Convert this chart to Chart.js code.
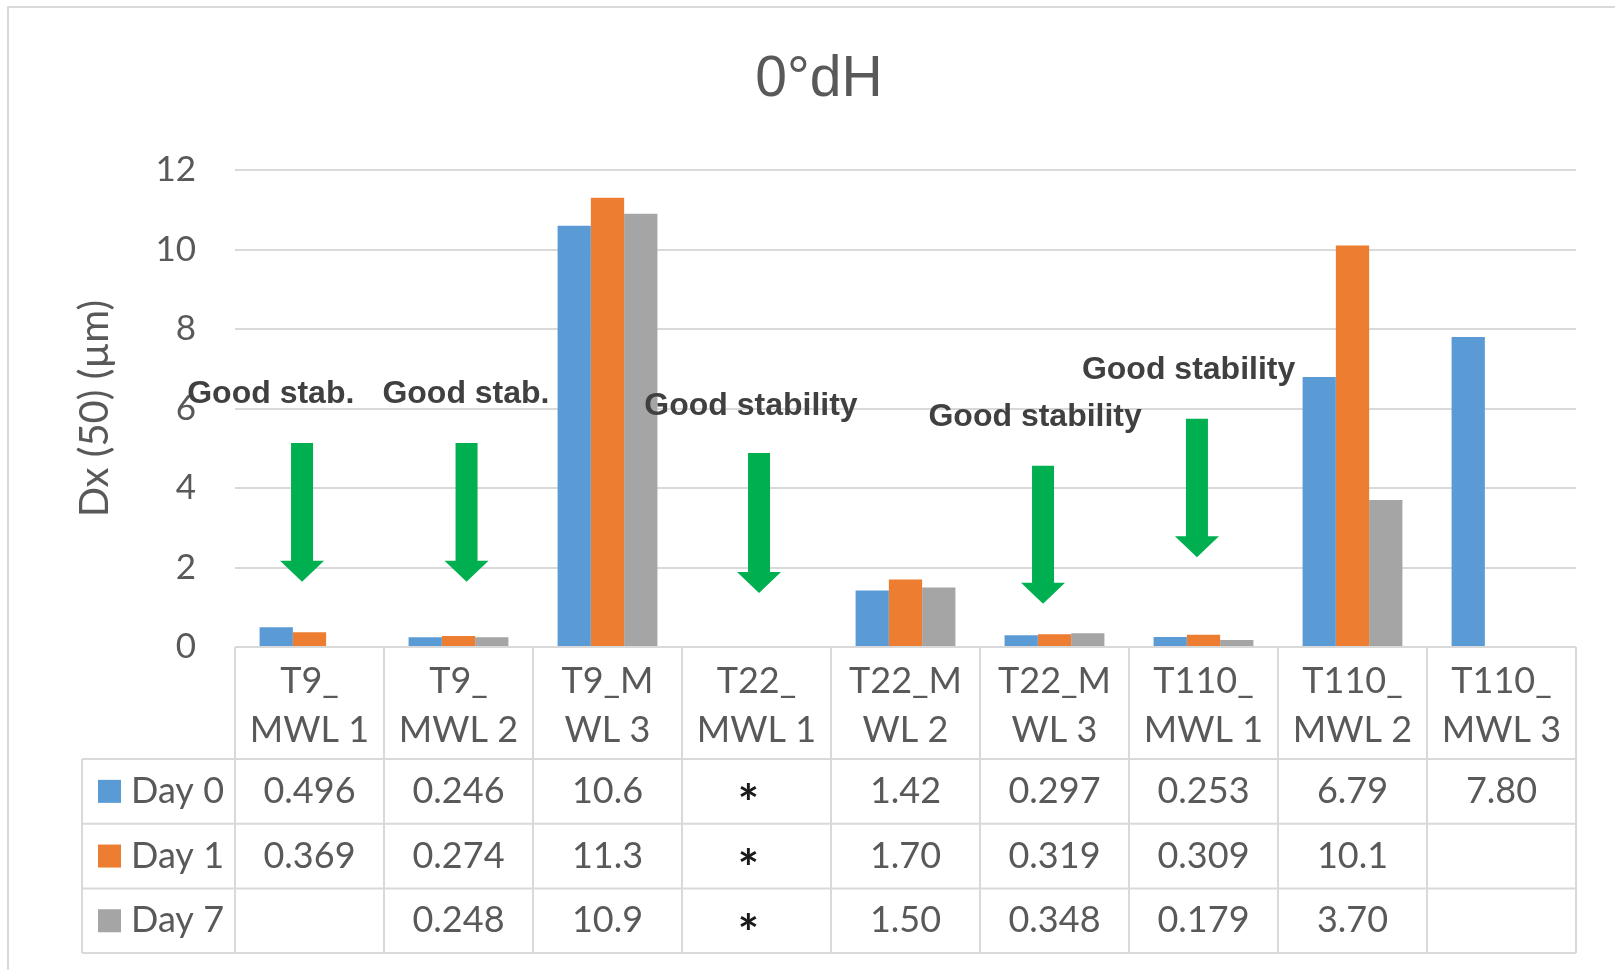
<!DOCTYPE html>
<html><head><meta charset="utf-8">
<script src="https://cdn.jsdelivr.net/npm/chart.js@4.4.1/dist/chart.umd.min.js"></script>
<style>html,body{margin:0;padding:0;background:#fff;} #wrap{width:1615px;height:970px;position:relative;}</style>
</head><body><div id="wrap"><canvas id="c"></canvas></div>
<script>
// ---- data ----
const categories = [["T9_","MWL 1"],["T9_","MWL 2"],["T9_M","WL 3"],["T22_","MWL 1"],["T22_M","WL 2"],["T22_M","WL 3"],["T110_","MWL 1"],["T110_","MWL 2"],["T110_","MWL 3"]];
const seriesNames = ["Day 0","Day 1","Day 7"];
const day0 = [0.496,0.246,10.6,null,1.42,0.297,0.253,6.79,7.80];
const day1 = [0.369,0.274,11.3,null,1.70,0.319,0.309,10.1,null];
const day7 = [null,0.248,10.9,null,1.50,0.348,0.179,3.70,null];
const notMeasured = [3];          // category indexes shown as "*" in the table
const titleText = "0°dH";
const yTitle = "Dx (50) (µm)";
const noteTexts = ["Good stab.","Good stab.","Good stability","Good stability","Good stability"];
const noteCats = [0,1,3,5,6];

// ---- styling / annotation placement (category offset, value units) ----
const colors = ["#5B9BD5","#ED7D31","#A5A5A5"];
const noteTextPos = [[-0.26,6.35],[0.05,6.35],[-0.037,6.07],[-0.13,5.79],[-0.10,6.97]];
const arrowPos = [[-0.05,5.13,1.64],[0.054,5.13,1.64],[0.017,4.88,1.36],[-0.077,4.56,1.09],[-0.044,5.74,2.26]];
const GRID = "#D9D9D9", TXT = "#595959";
const CAL = "Lato, 'Open Sans', sans-serif";

const seriesData = [day0, day1, day7];

const framePlugin = {
  id: 'frame',
  beforeDraw(chart) {
    const ctx = chart.ctx;
    ctx.save();
    ctx.fillStyle = '#fff';
    ctx.fillRect(0, 0, chart.width, chart.height);
    ctx.strokeStyle = GRID; ctx.lineWidth = 2;
    ctx.strokeRect(8, 7, chart.width + 20, chart.height + 20);
    ctx.restore();
  }
};

const tablePlugin = {
  id: 'dataTable',
  afterDraw(chart) {
    const {ctx, chartArea: a, scales: {x}} = chart;
    const n = categories.length;
    const colW = (a.right - a.left) / n;
    const headerH = 112, rowH = 64.7, legLeft = 82;
    const top = a.bottom, hb = top + headerH, bottom = hb + rowH * 3;
    ctx.save();
    ctx.strokeStyle = GRID; ctx.lineWidth = 2;
    ctx.beginPath();
    ctx.moveTo(a.left, top); ctx.lineTo(a.right, top);
    for (let r = 0; r <= 3; r++) { const y = hb + r * rowH; ctx.moveTo(legLeft, y); ctx.lineTo(a.right, y); }
    for (let i = 0; i <= n; i++) { const xx = a.left + i * colW; ctx.moveTo(xx, top); ctx.lineTo(xx, bottom); }
    ctx.moveTo(legLeft, hb); ctx.lineTo(legLeft, bottom);
    ctx.stroke();
    ctx.font = "36px " + CAL;
    ctx.textBaseline = 'middle';
    for (let r = 0; r < 3; r++) {
      const cy = hb + rowH * (r + 0.5);
      ctx.fillStyle = colors[r];
      ctx.fillRect(98, cy - 11.5, 23, 23);
      ctx.fillStyle = TXT; ctx.textAlign = 'left';
      ctx.fillText(seriesNames[r], 131, cy);
      ctx.textAlign = 'center';
      for (let i = 0; i < n; i++) {
        const cx = x.getPixelForValue(i);
        if (notMeasured.includes(i)) {
          ctx.fillStyle = '#1a1a1a';
          ctx.font = "bold 50px " + CAL;
          ctx.fillText('*', cx - 8, cy + 14);
          ctx.font = "36px " + CAL;
          ctx.fillStyle = TXT;
        } else if (seriesData[r][i] != null) {
          ctx.fillText(seriesData[r][i].toPrecision(3), cx, cy);
        }
      }
    }
    ctx.restore();
  }
};

const notesPlugin = {
  id: 'notes',
  afterDatasetsDraw(chart) {
    const {ctx, scales: {x, y}} = chart;
    const colW = x.getPixelForValue(1) - x.getPixelForValue(0);
    ctx.save();
    ctx.fillStyle = '#00B050';
    arrowPos.forEach(([dx, v1, v2], k) => {
      const cx = x.getPixelForValue(noteCats[k]) + dx * colW;
      const yt = y.getPixelForValue(v1), tip = y.getPixelForValue(v2);
      const hl = 21, sw = 11, hw = 22;
      ctx.beginPath();
      ctx.moveTo(cx - sw, yt); ctx.lineTo(cx + sw, yt);
      ctx.lineTo(cx + sw, tip - hl); ctx.lineTo(cx + hw, tip - hl);
      ctx.lineTo(cx, tip); ctx.lineTo(cx - hw, tip - hl);
      ctx.lineTo(cx - sw, tip - hl); ctx.closePath();
      ctx.fill();
    });
    ctx.fillStyle = '#404040';
    ctx.font = "bold 32px 'Liberation Sans', Arial, sans-serif";
    ctx.textAlign = 'center'; ctx.textBaseline = 'middle';
    noteTextPos.forEach(([dx, v], k) => {
      const cx = x.getPixelForValue(noteCats[k]) + dx * colW;
      ctx.fillText(noteTexts[k], cx, y.getPixelForValue(v));
    });
    ctx.restore();
  }
};

new Chart(document.getElementById('c'), {
  type: 'bar',
  data: {
    labels: categories,
    datasets: seriesNames.map((s, i) => ({
      label: s, data: seriesData[i], backgroundColor: colors[i], borderWidth: 0,
      categoryPercentage: 0.67, barPercentage: 1
    }))
  },
  options: {
    responsive: true, maintainAspectRatio: false, animation: false,
    layout: { padding: { left: 62, right: 39, top: 0, bottom: 0 } },
    plugins: {
      legend: { display: false },
      tooltip: { enabled: false },
      title: {
        display: true, text: titleText, color: TXT,
        font: { family: "'Liberation Sans', Arial, sans-serif", size: 57, weight: 'normal', lineHeight: 1.2 },
        padding: { top: 46, bottom: 55.6 }
      }
    },
    scales: {
      x: {
        grid: { display: false }, border: { display: false },
        ticks: { color: TXT, font: { family: CAL, size: 36, lineHeight: 1.36 }, padding: 2, autoSkip: false, maxRotation: 0, minRotation: 0 },
        afterFit(s) { s.height = 323; }
      },
      y: {
        min: 0, max: 12,
        grid: { color: GRID, lineWidth: 2, drawTicks: false },
        border: { display: false },
        ticks: { stepSize: 2, color: TXT, font: { family: CAL, size: 35 }, padding: 39 },
        title: { display: true, text: yTitle, color: TXT, font: { family: CAL, size: 40, lineHeight: 1.2 }, padding: { top: 9, bottom: 0 } },
        afterFit(s) { s.width = 173; }
      }
    }
  },
  plugins: [framePlugin, tablePlugin, notesPlugin]
});
</script>
</body></html>
